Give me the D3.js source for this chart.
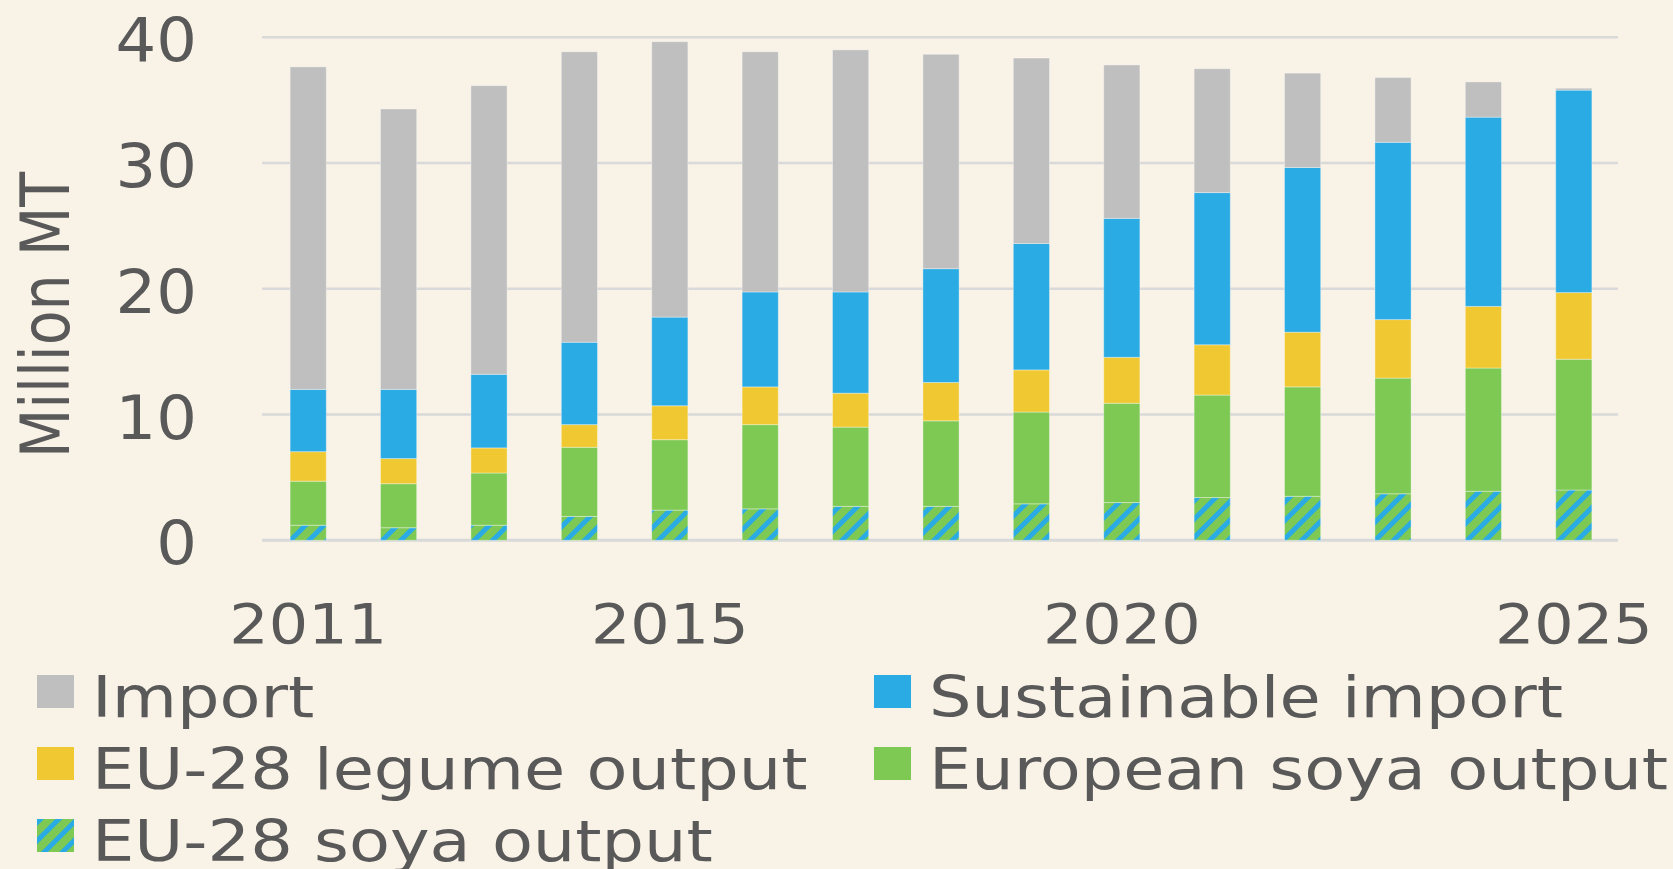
<!DOCTYPE html>
<html>
<head>
<meta charset="utf-8">
<script src="https://cdn.jsdelivr.net/npm/d3@7"></script>
<style>
  html, body { margin: 0; padding: 0; background: #f9f2e6; }
  svg { display: block; }
  text { font-family: "DejaVu Sans", Verdana, sans-serif; fill: #595959; }
</style>
</head>
<body>
<svg id="chart" width="1673" height="869"></svg>
<script>
// values, million tonnes
var years = [2011, 2012, 2013, 2014, 2015, 2016, 2017, 2018, 2019, 2020, 2021, 2022, 2023, 2024, 2025];
var tickYears = [2011, 2015, 2020, 2025];
var yTicks = [0, 10, 20, 30, 40];

var eu28Soya     = [1.2, 1.0, 1.2, 1.9, 2.4, 2.5, 2.7, 2.7, 2.9, 3.0, 3.4, 3.5, 3.7, 3.9, 4.0];
var europeanSoya = [3.5, 3.5, 4.15, 5.5, 5.6, 6.7, 6.3, 6.8, 7.3, 7.9, 8.15, 8.7, 9.2, 9.8, 10.4];
var legume       = [2.35, 2.0, 2.0, 1.8, 2.7, 3.0, 2.7, 3.05, 3.35, 3.65, 4.0, 4.35, 4.65, 4.9, 5.3];
var sustainable  = [4.95, 5.5, 5.85, 6.55, 7.05, 7.55, 8.05, 9.05, 10.05, 11.05, 12.1, 13.1, 14.1, 15.05, 16.1];
var imports      = [25.65, 22.3, 22.95, 23.1, 21.9, 19.1, 19.25, 17.05, 14.75, 12.2, 9.85, 7.5, 5.15, 2.8, 0.15];

var keys = ["eu28Soya", "europeanSoya", "legume", "sustainable", "imports"];
var colors = {
  eu28Soya: "url(#hatch)",
  europeanSoya: "#7dc953",
  legume: "#f0c932",
  sustainable: "#2aabe3",
  imports: "#bfbfbf"
};

var legendItems = [
  { key: "imports", label: "Import", col: 0, row: 0 },
  { key: "sustainable", label: "Sustainable import", col: 1, row: 0 },
  { key: "legume", label: "EU-28 legume output", col: 0, row: 1 },
  { key: "europeanSoya", label: "European soya output", col: 1, row: 1 },
  { key: "eu28Soya", label: "EU-28 soya output", col: 0, row: 2 }
];

var table = years.map(function(y, i) {
  return {
    year: y,
    eu28Soya: eu28Soya[i],
    europeanSoya: europeanSoya[i],
    legume: legume[i],
    sustainable: sustainable[i],
    imports: imports[i]
  };
});

var svg = d3.select("#chart");

// striped fill for the EU-28 soya part
var defs = svg.append("defs");
var pat = defs.append("pattern")
    .attr("id", "hatch")
    .attr("patternUnits", "userSpaceOnUse")
    .attr("width", 13)
    .attr("height", 13)
    .attr("patternTransform", "rotate(45)");
pat.append("rect").attr("width", 13).attr("height", 13).attr("fill", "#7dc953");
pat.append("rect").attr("x", 0).attr("width", 5).attr("height", 13).attr("fill", "#2aabe3");

var x = d3.scaleBand()
    .domain(years)
    .range([263, 1619])
    .paddingInner(0.6)
    .paddingOuter(0.3);

var y = d3.scaleLinear()
    .domain([0, 40])
    .range([540.3, 37.3]);

// grid
svg.append("g")
  .selectAll("line")
  .data(yTicks)
  .enter().append("line")
    .attr("x1", 262)
    .attr("x2", 1618)
    .attr("y1", function(d) { return y(d); })
    .attr("y2", function(d) { return y(d); })
    .attr("stroke", "#d9d9d9")
    .attr("stroke-width", function(d) { return d === 0 ? 3 : 2.5; });

// y tick labels
svg.append("g")
  .selectAll("text")
  .data(yTicks)
  .enter().append("text")
    .attr("transform", function(d) { return "translate(197," + (y(d) + 24) + ") scale(1,0.95)"; })
    .attr("text-anchor", "end")
    .style("font-size", "64px")
    .text(function(d) { return d; });

// y title
svg.append("text")
  .attr("transform", "translate(69,315) scale(1,0.84) rotate(-90)")
  .attr("text-anchor", "middle")
  .style("font-size", "68px")
  .text("Million MT");

// stacked bars
var series = d3.stack().keys(keys)(table);

svg.append("g")
  .selectAll("g")
  .data(series)
  .enter().append("g")
    .attr("fill", function(d) { return colors[d.key]; })
  .selectAll("rect")
  .data(function(d) { return d; })
  .enter().append("rect")
    .attr("x", function(d) { return x(d.data.year); })
    .attr("width", x.bandwidth())
    .attr("y", function(d) { return y(d[1]); })
    .attr("height", function(d) { return y(d[0]) - y(d[1]); })
    .attr("stroke", "rgba(255,255,255,0.35)")
    .attr("stroke-width", 1);

// x tick labels
svg.append("g")
  .selectAll("text")
  .data(tickYears)
  .enter().append("text")
    .attr("transform", function(d) {
      return "translate(" + (x(d) + x.bandwidth() / 2) + ",643) scale(1,0.9)";
    })
    .attr("text-anchor", "middle")
    .style("font-size", "62px")
    .text(function(d) { return d; });

// legend
var legend = svg.append("g")
  .selectAll("g")
  .data(legendItems)
  .enter().append("g")
    .attr("transform", function(d) {
      return "translate(" + (d.col ? 874 : 37) + "," + (675 + d.row * 72) + ")";
    });

legend.append("rect")
    .attr("width", 37)
    .attr("height", 33)
    .attr("fill", function(d) { return colors[d.key]; });

legend.append("text")
    .attr("transform", "translate(55,42) scale(1,0.86)")
    .style("font-size", "67px")
    .text(function(d) { return d.label; });
</script>
</body>
</html>
